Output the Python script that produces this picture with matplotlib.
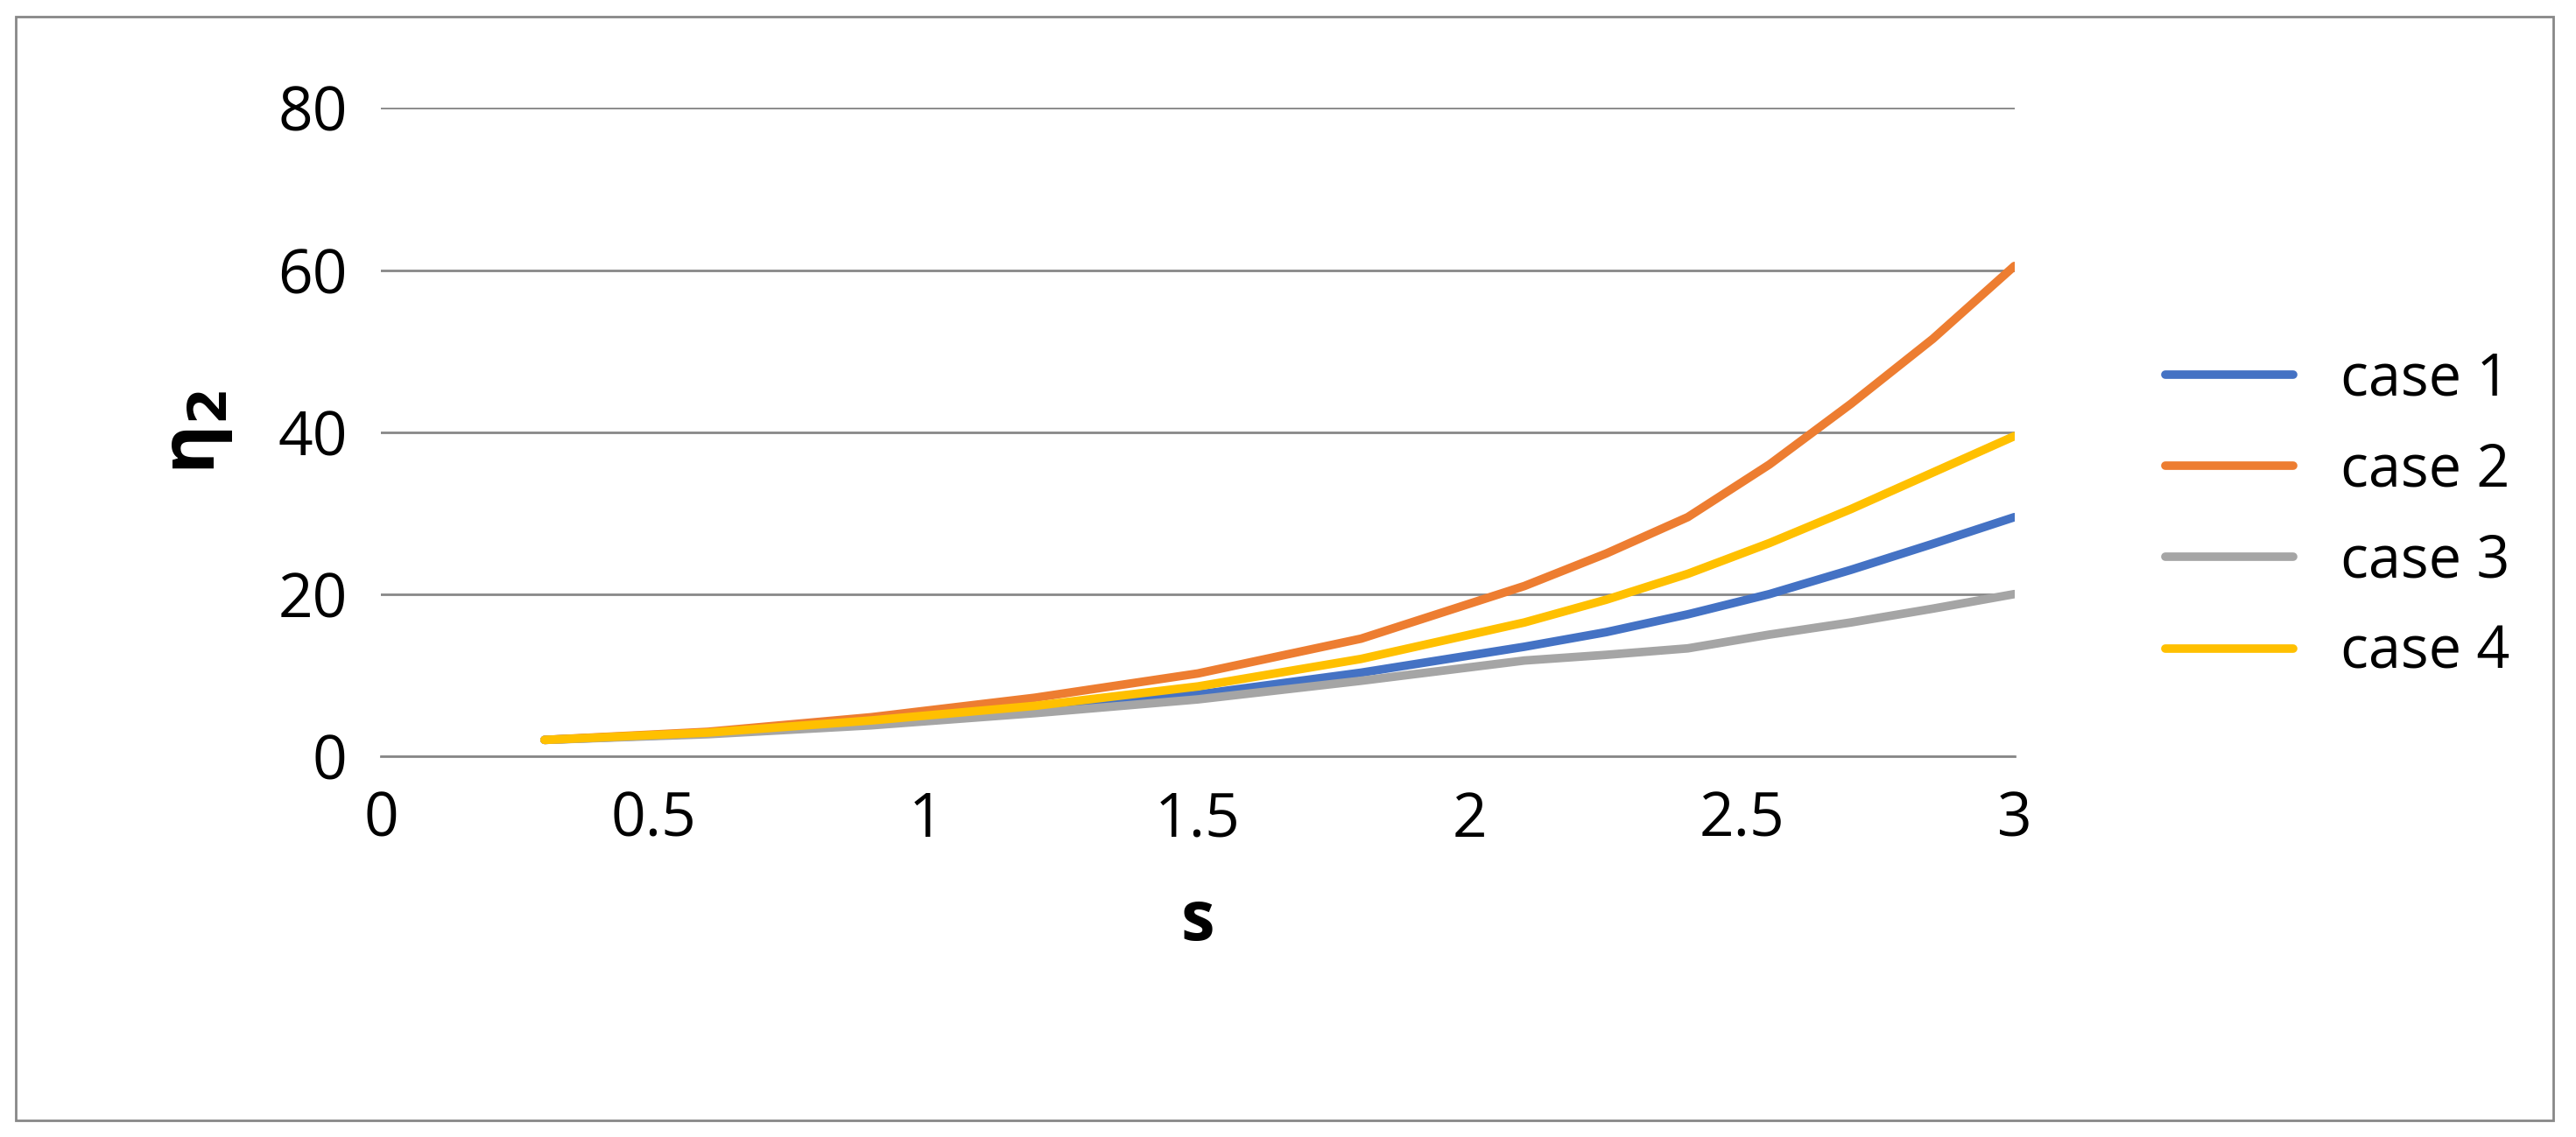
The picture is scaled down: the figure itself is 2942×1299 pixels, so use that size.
import matplotlib
matplotlib.use("Agg")
import matplotlib.pyplot as plt
from matplotlib.patches import Rectangle

s = [0.3, 0.6, 0.9, 1.2, 1.5, 1.8, 2.1, 2.25, 2.4, 2.55, 2.7, 2.85, 3.0]
case1 = [2, 2.8, 4.0, 5.6, 7.6, 10.3, 13.5, 15.3, 17.5, 20.0, 23, 26.2, 29.5]
case2 = [2, 3.0, 4.8, 7.2, 10.2, 14.5, 21, 25.0, 29.5, 36.0, 43.5, 51.5, 60.5]
case3 = [2, 2.7, 3.8, 5.3, 7.0, 9.3, 11.8, 12.5, 13.3, 15.0, 16.5, 18.2, 20]
case4 = [2, 2.9, 4.4, 6.2, 8.6, 12, 16.5, 19.3, 22.5, 26.3, 30.5, 35.0, 39.5]
labels = ["case 1", "case 2", "case 3", "case 4"]
colors = ["#4472C4", "#ED7D31", "#A5A5A5", "#FFC000"]

plt.rcParams['font.family'] = ['Open Sans', 'DejaVu Sans']
fig = plt.figure(figsize=(29.42, 12.99), dpi=100)
ax = fig.add_axes([0.148, 0.335, 0.634, 0.57])

for ys, lab, c in zip([case1, case2, case3, case4], labels, colors):
    ax.plot(s, ys, color=c, lw=7, label=lab, solid_capstyle="round",
            solid_joinstyle="round")

ax.set_xlim(0, 3)
ax.set_ylim(0, 80)
ax.set_xticks([0, 0.5, 1, 1.5, 2, 2.5, 3])
ax.set_xticklabels(["0", "0.5", "1", "1.5", "2", "2.5", "3"])
ax.set_yticks([0, 20, 40, 60, 80])
ax.tick_params(length=0, labelsize=50, pad=28)
ax.grid(axis="y", color="#888888", lw=2)
for side in ["left", "right", "top"]:
    ax.spines[side].set_visible(False)
ax.spines["bottom"].set_color("#888888")
ax.spines["bottom"].set_linewidth(2)
ax.set_axisbelow(True)

ax.set_xlabel("s", fontsize=56, fontweight="bold", labelpad=30)
ax.set_ylabel("η$_\\mathbf{2}$", fontsize=62, fontweight="bold", labelpad=35)

ax.legend(loc="center left", bbox_to_anchor=(1.06, 0.37), frameon=False,
          fontsize=48, handlelength=2.2, labelspacing=0.55)

fig.patches.append(Rectangle((0.006, 0.015), 0.985, 0.97, transform=fig.transFigure,
                             fill=False, edgecolor="#888888", lw=2))
fig.savefig("out.png", dpi=100)
